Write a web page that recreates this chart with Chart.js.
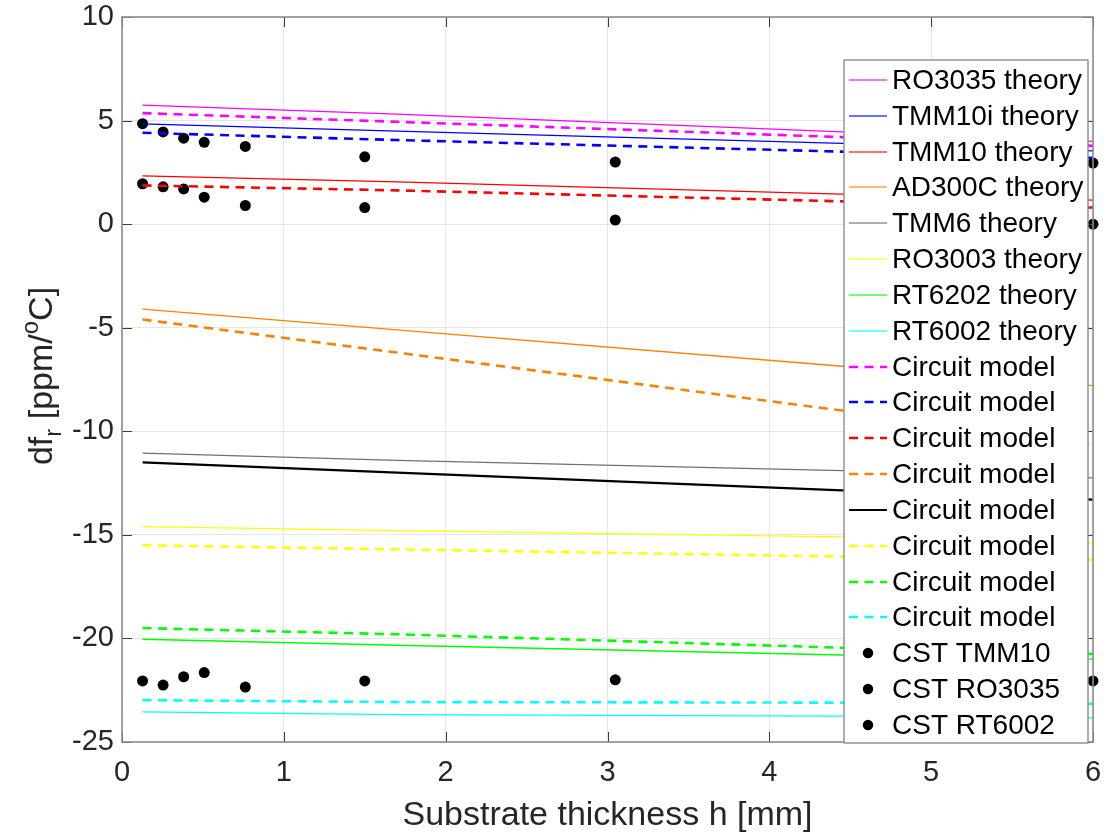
<!DOCTYPE html>
<html><head><meta charset="utf-8">
<script src="https://cdn.jsdelivr.net/npm/chart.js@4"></script>
<style>html,body{margin:0;padding:0;background:#fff}canvas{display:block}</style>
</head><body>
<div style="width:1104px;height:836px"><canvas id="c" width="1104" height="836"></canvas></div>
<script>
// ---- data ----
const hLine = [0.127, 1.7, 4.45, 6.0];
const ro3035Theory  = [5.75, 5.31, 4.45, 4.0];
const tmm10iTheory  = [4.84, 4.49, 3.9, 3.54];
const tmm10Theory   = [2.33, 2.04, 1.45, 1.16];
const ad300cTheory  = [-4.1, -5.1, -6.86, -7.8];
const tmm6Theory    = [-11.05, -11.4, -11.9, -12.25];
const ro3003Theory  = [-14.6, -14.8, -15.1, -15.4];
const rt6202Theory  = [-20.04, -20.33, -20.8, -21.0];
const rt6002Theory  = [-23.55, -23.68, -23.75, -23.84];
const ro3035Circuit = [5.36, 4.94, 4.2, 3.78];
const tmm10iCircuit = [4.41, 4.06, 3.5, 3.2];
const tmm10Circuit  = [1.87, 1.63, 1.1, 0.8];
const ad300cCircuit = [-4.6, -6.2, -9.0, -10.6];
const tmm6Circuit   = [-11.5, -12.0, -12.85, -13.3];
const ro3003Circuit = [-15.5, -15.7, -16.05, -16.2];
const rt6202Circuit = [-19.5, -19.8, -20.45, -20.75];
const rt6002Circuit = [-22.98, -23.07, -23.1, -23.15];
const hCST = [0.127, 0.254, 0.381, 0.508, 0.762, 1.5, 3.048, 6.0];
const cstTMM10  = [1.95, 1.8, 1.7, 1.3, 0.9, 0.8, 0.2, 0.0];
const cstRO3035 = [4.85, 4.45, 4.15, 3.95, 3.75, 3.25, 3.0, 2.95];
const cstRT6002 = [-22.05, -22.25, -21.85, -21.65, -22.35, -22.05, -22.0, -22.05];
const xTicks = [0, 1, 2, 3, 4, 5, 6];
const yTicks = [-25, -20, -15, -10, -5, 0, 5, 10];

const FONT = "'Liberation Sans', Arial, Helvetica, sans-serif";
const pts = (xs, ys) => xs.map((x, i) => ({x, y: ys[i]}));
function theory(label, arr, color) {
  return {label, data: pts(hLine, arr), borderColor: color, borderWidth: 1.3, pointRadius: 0, fill: false, tension: 0};
}
function circuit(label, arr, color, solid) {
  return {label, data: pts(hLine, arr), borderColor: color, borderWidth: solid ? 2.2 : 2.6,
    borderDash: solid ? [] : [9, 6.5], pointRadius: 0, fill: false, tension: 0};
}
function cst(label, arr) {
  return {label, data: pts(hCST, arr), showLine: false, pointRadius: 5.5, pointBackgroundColor: '#000',
    pointBorderWidth: 0, pointBorderColor: '#000', borderColor: '#000', clip: false};
}
const datasets = [
  theory('RO3035 theory', ro3035Theory, '#ff00ff'),
  theory('TMM10i theory', tmm10iTheory, '#0000ff'),
  theory('TMM10 theory', tmm10Theory, '#ff0000'),
  theory('AD300C theory', ad300cTheory, '#ff8000'),
  theory('TMM6 theory', tmm6Theory, '#707070'),
  theory('RO3003 theory', ro3003Theory, '#ffff00'),
  theory('RT6202 theory', rt6202Theory, '#00ff00'),
  theory('RT6002 theory', rt6002Theory, '#00ffff'),
  circuit('Circuit model', ro3035Circuit, '#ff00ff'),
  circuit('Circuit model', tmm10iCircuit, '#0000ff'),
  circuit('Circuit model', tmm10Circuit, '#ff0000'),
  circuit('Circuit model', ad300cCircuit, '#ff8000'),
  circuit('Circuit model', tmm6Circuit, '#000000', true),
  circuit('Circuit model', ro3003Circuit, '#ffff00'),
  circuit('Circuit model', rt6202Circuit, '#00ff00'),
  circuit('Circuit model', rt6002Circuit, '#00ffff'),
  cst('CST TMM10', cstTMM10),
  cst('CST RO3035', cstRO3035),
  cst('CST RT6002', cstRT6002)
];

const AXIS = '#8c8c8c';
const decor = {
  id: 'decor',
  afterDatasetsDraw(chart) {
    const {ctx, chartArea: a, scales: {x, y}} = chart;
    ctx.save();
    // tick marks inside, all four sides
    ctx.strokeStyle = '#3a3a3a'; ctx.lineWidth = 1;
    ctx.beginPath();
    xTicks.forEach(v => { const px = Math.round(x.getPixelForValue(v)) + 0.5;
      ctx.moveTo(px, a.bottom); ctx.lineTo(px, a.bottom - 10);
      ctx.moveTo(px, a.top); ctx.lineTo(px, a.top + 10); });
    yTicks.forEach(v => { const py = Math.round(y.getPixelForValue(v)) + 0.5;
      ctx.moveTo(a.left, py); ctx.lineTo(a.left + 10, py);
      ctx.moveTo(a.right, py); ctx.lineTo(a.right - 10, py); });
    ctx.stroke();
    // box
    ctx.strokeStyle = AXIS; ctx.lineWidth = 1.6;
    ctx.strokeRect(a.left, a.top, a.right - a.left, a.bottom - a.top);

    // legend
    const lx0 = 844, lx1 = a.right - 5, ly0 = 60, ly1 = a.bottom + 1;
    ctx.fillStyle = '#fff';
    ctx.fillRect(lx0, ly0, lx1 - lx0, ly1 - ly0);
    ctx.strokeStyle = AXIS; ctx.lineWidth = 1.4;
    ctx.strokeRect(lx0, ly0, lx1 - lx0, ly1 - ly0);
    const pitch = 35.83;
    ctx.font = '28px ' + FONT; ctx.textBaseline = 'middle'; ctx.textAlign = 'left';
    chart.data.datasets.forEach((ds, i) => {
      const cy = Math.round(ly0 + 20 + i * pitch);
      if (ds.showLine === false) {
        ctx.fillStyle = '#000'; ctx.beginPath(); ctx.arc(lx0 + 24, cy, 5.2, 0, Math.PI * 2); ctx.fill();
      } else {
        ctx.strokeStyle = ds.borderColor;
        ctx.lineWidth = ds.borderWidth < 2 ? 1.6 : ds.borderWidth;
        ctx.globalAlpha = ds.borderWidth < 2 ? 0.75 : 1;
        ctx.setLineDash(ds.borderDash || []);
        ctx.beginPath(); ctx.moveTo(lx0 + 5, cy); ctx.lineTo(lx0 + 43, cy); ctx.stroke();
        ctx.setLineDash([]); ctx.globalAlpha = 1;
      }
      ctx.fillStyle = '#000';
      ctx.fillText(ds.label, lx0 + 48, cy + 1);
    });

    // y title with subscript / superscript
    const big = '34px ' + FONT, small = '24px ' + FONT;
    const parts = [['df', big, 0], ['r', small, 9], [' [ppm/', big, 0], ['o', small, -14], ['C]', big, 0]];
    let total = 0;
    parts.forEach(p => { ctx.font = p[1]; total += ctx.measureText(p[0]).width; });
    ctx.translate(52, 376); ctx.rotate(-Math.PI / 2);
    ctx.fillStyle = '#262626'; ctx.textBaseline = 'alphabetic'; ctx.textAlign = 'left';
    let cx = -total / 2;
    parts.forEach(p => { ctx.font = p[1]; ctx.fillText(p[0], cx, p[2]); cx += ctx.measureText(p[0]).width; });
    ctx.restore();
  }
};

new Chart(document.getElementById('c'), {
  type: 'line',
  data: {datasets},
  options: {
    responsive: false, animation: false, devicePixelRatio: 1,
    layout: {padding: {top: 17, right: 11, left: 0, bottom: 0}},
    plugins: {legend: {display: false}, tooltip: {enabled: false}},
    scales: {
      x: {
        type: 'linear', min: 0, max: 6,
        afterBuildTicks: s => { s.ticks = xTicks.map(v => ({value: v})); },
        afterFit: s => { s.height = 94; s.paddingLeft = 0; s.paddingRight = 0; },
        ticks: {font: {size: 29, family: FONT}, color: '#262626', padding: 14, maxRotation: 0},
        grid: {color: '#e6e6e6', lineWidth: 1, drawTicks: false},
        border: {display: false},
        title: {display: true, text: 'Substrate thickness h [mm]', font: {size: 34, family: FONT}, color: '#262626', padding: {top: 0, bottom: 0}}
      },
      y: {
        type: 'linear', min: -25, max: 10,
        afterBuildTicks: s => { s.ticks = yTicks.map(v => ({value: v})); },
        afterFit: s => { s.width = 122; s.paddingTop = 0; s.paddingBottom = 0; },
        ticks: {font: {size: 29, family: FONT}, color: '#262626', padding: 8},
        grid: {color: '#e6e6e6', lineWidth: 1, drawTicks: false},
        border: {display: false}
      }
    }
  },
  plugins: [decor]
});
</script>
</body></html>
